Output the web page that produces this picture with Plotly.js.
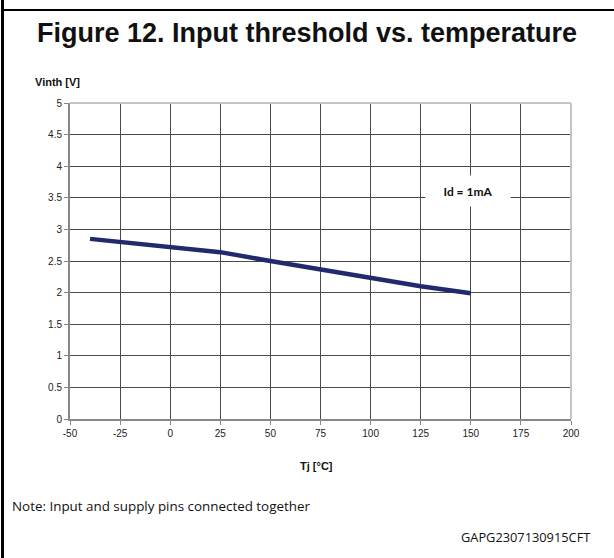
<!DOCTYPE html>
<html>
<head>
<meta charset="utf-8">
<script src="https://cdn.plot.ly/plotly-3.0.1.min.js"></script>
<style>
html,body{margin:0;padding:0;background:#fff;}
#chart{width:614px;height:558px;}
</style>
</head>
<body>
<div id="chart"></div>
<script>
// Data
const tempC = [-40, -25, 0, 25, 50, 75, 100, 125, 150];
const vinth = [2.85, 2.80, 2.72, 2.64, 2.50, 2.37, 2.23, 2.10, 1.99];
const xTicks = [-50, -25, 0, 25, 50, 75, 100, 125, 150, 175, 200];
const yTicks = [0, 0.5, 1, 1.5, 2, 2.5, 3, 3.5, 4, 4.5, 5];
const titleText = "Figure 12. Input threshold vs. temperature";
const xTitle = "Tj [°C]";
const yTitle = "Vinth [V]";
const conditionLabel = "Id = 1mA";
const noteText = "Note: Input and supply pins connected together";
const codeText = "GAPG2307130915CFT";

const W = 614, H = 558;
const M = {l: 70, r: 43, t: 103, b: 139};
const pw = W - M.l - M.r, ph = H - M.t - M.b;
const px = x => (x - M.l) / pw;           // pixel -> paper x
const py = y => (H - M.b - y) / ph;       // pixel -> paper y
const ARIAL = "Arial, 'Liberation Sans', sans-serif";

const trace = {
  x: tempC, y: vinth, type: 'scatter', mode: 'lines',
  line: {color: '#222a6e', width: 4.5},
  hoverinfo: 'skip', showlegend: false
};

const layout = {
  width: W, height: H,
  margin: M,
  paper_bgcolor: '#fff', plot_bgcolor: '#fff',
  font: {family: ARIAL, color: '#222'},
  title: {
    text: '<b>' + titleText + '</b>',
    font: {family: ARIAL, size: 27, color: '#111'},
    x: 0.5, xref: 'container', xanchor: 'center',
    y: 1 - 33 / H, yref: 'container', yanchor: 'middle'
  },
  xaxis: {
    range: [-50, 200], tickvals: xTicks, ticktext: xTicks.map(String),
    showgrid: true, gridcolor: '#4a4a4a', gridwidth: 1,
    showline: true, linecolor: '#888', linewidth: 2,
    ticks: 'outside', ticklen: 4, tickcolor: '#888', tickwidth: 1,
    tickfont: {family: ARIAL, size: 10, color: '#222'}, zeroline: false, fixedrange: true
  },
  yaxis: {
    range: [0, 5], tickvals: yTicks, ticktext: yTicks.map(String),
    showgrid: true, gridcolor: '#4a4a4a', gridwidth: 1,
    showline: true, linecolor: '#888', linewidth: 2,
    ticks: 'outside', ticklen: 4, tickcolor: '#888', tickwidth: 1,
    tickfont: {family: ARIAL, size: 10, color: '#222'}, zeroline: false, fixedrange: true
  },
  shapes: [
    {type: 'line', xref: 'paper', yref: 'paper', x0: 0, x1: 1, y0: 1, y1: 1,
     line: {color: '#c4c4c4', width: 2}},
    {type: 'line', xref: 'paper', yref: 'paper', x0: 1, x1: 1, y0: 0, y1: 1,
     line: {color: '#c4c4c4', width: 2}},
    {type: 'line', xref: 'paper', yref: 'paper', x0: px(2.5), x1: px(2.5), y0: py(0), y1: py(H),
     line: {color: '#000', width: 3}},
    {type: 'line', xref: 'paper', yref: 'paper', x0: px(1), x1: px(W), y0: py(10), y1: py(10),
     line: {color: '#000', width: 2}}
  ],
  annotations: [
    {text: '<b>' + yTitle + '</b>', xref: 'paper', yref: 'paper',
     x: px(33), y: py(82), xanchor: 'left', yanchor: 'middle', showarrow: false,
     font: {family: ARIAL, size: 11, color: '#111'}},
    {text: '<b>' + xTitle + '</b>', xref: 'paper', yref: 'paper',
     x: px(316), y: py(466), xanchor: 'center', yanchor: 'middle', showarrow: false,
     font: {family: ARIAL, size: 11, color: '#111'}},
    {text: '<b>' + conditionLabel + '</b>', xref: 'x', yref: 'y',
     x: 148.5, y: 3.6, xanchor: 'center', yanchor: 'middle', showarrow: false,
     width: 82, height: 28, bgcolor: '#fff',
     font: {family: "Lato, 'Open Sans', sans-serif", size: 12, color: '#111'}},
    {text: noteText, xref: 'paper', yref: 'paper',
     x: px(10), y: py(506), xanchor: 'left', yanchor: 'middle', showarrow: false,
     font: {family: "'Open Sans', 'Noto Sans', sans-serif", size: 13.4, color: '#111'}},
    {text: codeText, xref: 'paper', yref: 'paper',
     x: px(592), y: py(537), xanchor: 'right', yanchor: 'middle', showarrow: false,
     font: {family: "'Open Sans', 'Noto Sans', sans-serif", size: 12.8, color: '#111'}}
  ]
};

Plotly.newPlot('chart', [trace], layout, {staticPlot: true, displayModeBar: false});
</script>
</body>
</html>
